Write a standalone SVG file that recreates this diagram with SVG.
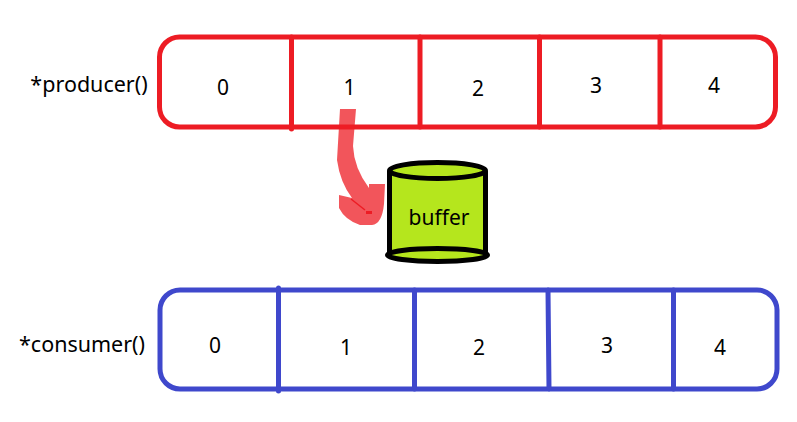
<svg xmlns="http://www.w3.org/2000/svg" width="797" height="422" viewBox="0 0 797 422">
<style>
text{font-family:"Noto Sans","Open Sans","Liberation Sans",sans-serif;font-size:21px;fill:#000;text-anchor:middle}
.lbl{font-size:21.500px}
.red{fill:none;stroke:#ed1c24;stroke-width:5;stroke-linecap:round}
.blue{fill:none;stroke:#3f48cc;stroke-width:5;stroke-linecap:round}
.can{fill:#b5e61d;stroke:#000;stroke-width:5}
</style>
<rect width="797" height="422" fill="#fff"/>
<g id="producer">
<text class="lbl" x="89" y="92">*producer()</text>
<rect class="red" x="159.500" y="37" width="616" height="90" rx="20"/>
<path class="red" d="M291.500 37V129M420 37V127M539.500 37V127M660 37V127"/>
<text x="223" y="95">0</text><text x="349.500" y="95">1</text><text x="478" y="96">2</text><text x="596" y="93">3</text><text x="714" y="93">4</text>
</g>
<g id="consumer">
<text class="lbl" x="82" y="352">*consumer()</text>
<rect class="blue" x="160" y="290" width="617" height="99" rx="20"/>
<path class="blue" d="M278.500 288V391M414.500 290V389M548 290L549 389M673.500 290V389"/>
<text x="215" y="353">0</text><text x="346" y="355">1</text><text x="479" y="355">2</text><text x="607" y="353">3</text><text x="720" y="355">4</text>
</g>
<g id="buffer">
<path class="can" d="M389.500 171V254H485.500V171"/>
<ellipse class="can" cx="437.500" cy="170.500" rx="48" ry="8"/>
<ellipse class="can" cx="437.500" cy="255" rx="50" ry="6.500"/>
<text x="439" y="225">buffer</text>
</g>
<g id="connectors">
<path fill="#ed1c24" fill-opacity="0.75" d="M340 109H356L353 146Q354 168 369 188L369 184H385L384 204Q382 224 372 225H360Q345 220 339 208V195L352 198Q340 182 337 160Z"/>
<path fill="none" stroke="#ed1c24" stroke-width="1.500" d="M351 199L365 210"/>
<path fill="#ed1c24" d="M366 211H372V214H366Z"/>
</g>
</svg>
